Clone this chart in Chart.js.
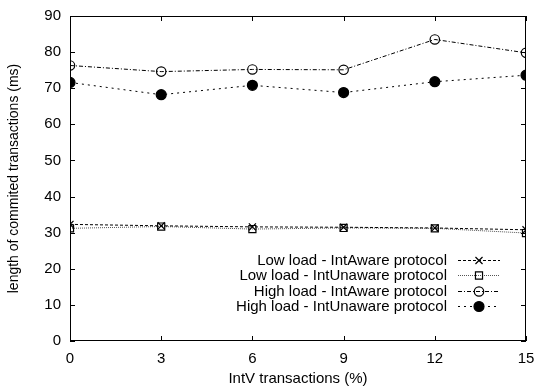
<!DOCTYPE html>
<html>
<head>
<meta charset="utf-8">
<script src="https://cdn.jsdelivr.net/npm/chart.js@4.4.0/dist/chart.umd.min.js"></script>
<style>
  html, body { margin: 0; padding: 0; background: #fff; }
  #wrap { width: 537px; height: 388px; }
</style>
</head>
<body>
<div id="wrap"><canvas id="chart"></canvas></div>
<script>
// --- DATI ---
const xValues = [0, 3, 6, 9, 12, 15];
const lowAware = [32.3, 31.9, 31.6, 31.5, 31.3, 30.8];
const lowUnaware = [31.2, 31.7, 31.0, 31.3, 31.2, 29.9];
const highAware = [76.3, 74.6, 75.2, 75.1, 83.5, 79.8];
const highUnaware = [71.6, 68.2, 70.8, 68.8, 71.8, 73.6];
const seriesLabels = [
    'Low load - IntAware protocol',
    'Low load - IntUnaware protocol',
    'High load - IntAware protocol',
    'High load - IntUnaware protocol'
];
const xTitle = 'IntV transactions (%)';
const yTitle = 'length of commited transactions (ms)';

const FONT = '"Liberation Sans", Arial, sans-serif';
const toPts = arr => arr.map((v, i) => ({ x: xValues[i], y: v }));

// --- PLUGIN: cornice e tacche interne (stile gnuplot) ---
const frameTicks = {
    id: 'frameTicks',
    afterDraw(chart) {
        const { ctx, chartArea: a, scales } = chart;
        ctx.save();
        ctx.strokeStyle = '#000';
        ctx.lineWidth = 1;
        ctx.strokeRect(a.left + 0.5, a.top + 0.5, a.right - a.left - 1, a.bottom - a.top - 1);
        const L = 5;
        ctx.beginPath();
        scales.x.ticks.forEach(t => {
            const px = Math.round(scales.x.getPixelForValue(t.value)) + 0.5;
            ctx.moveTo(px, a.bottom); ctx.lineTo(px, a.bottom - L);
            ctx.moveTo(px, a.top); ctx.lineTo(px, a.top + L);
        });
        scales.y.ticks.forEach(t => {
            const py = Math.round(scales.y.getPixelForValue(t.value)) + 0.5;
            ctx.moveTo(a.left, py); ctx.lineTo(a.left + L, py);
            ctx.moveTo(a.right, py); ctx.lineTo(a.right - L, py);
        });
        ctx.stroke();
        ctx.restore();
    }
};

// --- PLUGIN: legenda interna ---
const innerLegend = {
    id: 'innerLegend',
    afterDraw(chart) {
        const { ctx } = chart;
        const textRight = 447, sx0 = 458, sx1 = 500, y0 = 260, dy = 15.4;
        ctx.save();
        ctx.font = '15px ' + FONT;
        ctx.textAlign = 'right';
        ctx.textBaseline = 'middle';
        chart.data.datasets.forEach((ds, i) => {
            const y = Math.round(y0 + i * dy);
            ctx.fillStyle = '#000';
            ctx.fillText(ds.label, textRight, y + 1);
            ctx.strokeStyle = ds.borderColor;
            ctx.lineWidth = 1;
            ctx.setLineDash(ds.borderDash || []);
            ctx.beginPath();
            ctx.moveTo(sx0, y + 0.5); ctx.lineTo(sx1, y + 0.5);
            ctx.stroke();
            ctx.setLineDash([]);
            ctx.strokeStyle = ds.pointBorderColor;
            ctx.fillStyle = ds.pointBackgroundColor;
            ctx.lineWidth = ds.pointBorderWidth;
            Chart.helpers.drawPoint(ctx, {
                pointStyle: ds.pointStyle,
                radius: ds.pointRadius,
                borderWidth: ds.pointBorderWidth
            }, (sx0 + sx1) / 2, y + 0.5);
        });
        ctx.restore();
    }
};

function makeSet(label, data, dash, style, radius, fill, color) {
    return {
        label: label,
        data: toPts(data),
        borderColor: color || '#000',
        borderWidth: 1,
        borderDash: dash,
        pointStyle: style,
        pointRadius: radius,
        pointBorderWidth: 1.2,
        pointBorderColor: '#000',
        pointBackgroundColor: fill,
        backgroundColor: fill,
        tension: 0,
        fill: false
    };
}

new Chart(document.getElementById('chart').getContext('2d'), {
    type: 'line',
    data: {
        datasets: [
            makeSet(seriesLabels[0], lowAware, [3, 2], 'crossRot', 5, 'rgba(0,0,0,0)'),
            makeSet(seriesLabels[1], lowUnaware, [1, 1], 'rect', 5, 'rgba(0,0,0,0)', '#555'),
            makeSet(seriesLabels[2], highAware, [4, 2, 1, 2], 'circle', 4.7, 'rgba(0,0,0,0)'),
            makeSet(seriesLabels[3], highUnaware, [2, 4], 'circle', 5, '#000')
        ]
    },
    options: {
        responsive: true,
        maintainAspectRatio: false,
        animation: false,
        layout: { padding: { top: 16, right: 11, left: 0, bottom: 0 } },
        plugins: { legend: { display: false }, tooltip: { enabled: false } },
        scales: {
            x: {
                type: 'linear',
                min: 0, max: 15,
                afterFit: s => { s.height = 47; s.paddingLeft = 0; s.paddingRight = 0; },
                afterBuildTicks: s => { s.ticks = xValues.map(v => ({ value: v })); },
                grid: { display: false, drawTicks: false },
                border: { display: false },
                ticks: { color: '#000', font: { family: FONT, size: 15 }, padding: 9, maxRotation: 0 },
                title: { display: true, text: xTitle, color: '#000', font: { family: FONT, size: 15 }, padding: { top: 2, bottom: 0 } }
            },
            y: {
                min: 0, max: 90,
                afterFit: s => { s.width = 70; s.paddingTop = 0; s.paddingBottom = 0; },
                grid: { display: false, drawTicks: false },
                border: { display: false },
                ticks: { stepSize: 10, color: '#000', font: { family: FONT, size: 15 }, padding: 9 },
                title: { display: true, text: yTitle, color: '#000', font: { family: FONT, size: 14 }, padding: { top: 6, bottom: 0 } }
            }
        }
    },
    plugins: [frameTicks, innerLegend]
});
</script>
</body>
</html>
